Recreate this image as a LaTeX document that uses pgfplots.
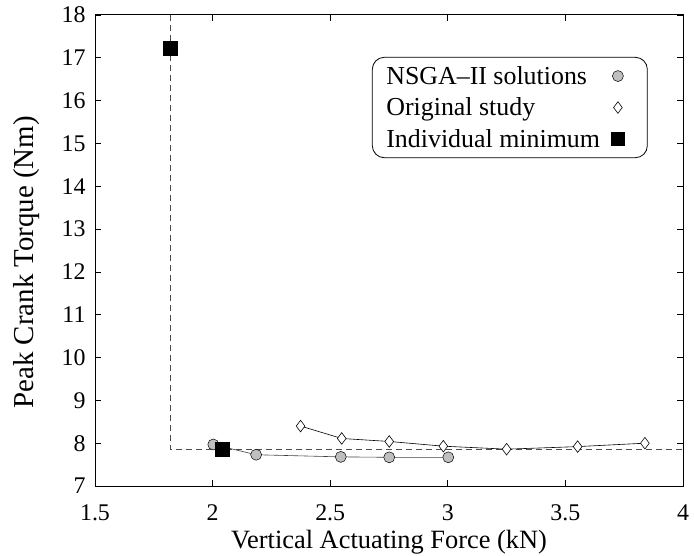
\documentclass[border=0pt]{standalone}
\usepackage{fontspec}
\setmainfont{Liberation Serif}
\usepackage{pgfplots}
\pgfplotsset{compat=1.18}
\begin{document}
\begin{tikzpicture}
\begin{axis}[
 scale only axis, width=588bp, height=471bp,
 xmin=1.5, xmax=4, ymin=7, ymax=18,
 xtick={1.5,2,2.5,3,3.5,4}, ytick={7,8,...,18},
 tick align=inside, major tick length=6bp,
 tick style={line width=0.8pt, black},
 /pgf/number format/assume math mode=true,
 ticklabel style={font=\rmfamily\fontsize{24}{28}\selectfont},
 xticklabel style={yshift=-15bp},
 yticklabel style={xshift=-6bp},
 xlabel={Vertical Actuating Force (kN)},
 ylabel={Peak Crank Torque (Nm)},
 xlabel style={font=\rmfamily\fontsize{26.5}{30}\selectfont, at={(axis description cs:0.5,0)}, anchor=center, yshift=-56bp},
 ylabel style={font=\rmfamily\fontsize{29}{33}\selectfont, at={(axis description cs:0,0.475)}, anchor=center, yshift=68bp},
 axis line style={line width=1pt},
 mylegimg/.style={legend image code/.code={\draw[mark repeat=2,mark phase=2,##1] plot coordinates {(0cm,0cm)(0.3cm,0cm)(0.6cm,0cm)}; \path (0cm,0cm) (0.9cm,0cm);}},
 legend cell align=left,
 legend plot pos=right,
 legend style={at={(0.940,0.911)}, anchor=north east, draw=black, line width=0.8pt,
   rounded corners=12bp, font=\rmfamily\fontsize{26}{30}\selectfont, inner xsep=12bp, inner ysep=7bp,
   row sep=8bp, column sep=7bp, nodes={inner sep=2bp}},
]
% dashed guide lines
\addplot[forget plot, black!70, line width=0.8pt, dash pattern=on 6bp off 4bp]
  coordinates {(1.82,18) (1.82,7.86) (4,7.86)};
% Original study
\addplot[forget plot, black, line width=0.6pt, mark=diamond*, mark size=5.8bp,
  mark options={fill=white, draw=black, line width=0.6pt}]
  coordinates {(2.374,8.40) (2.549,8.11) (2.751,8.04) (2.981,7.93) (3.25,7.86) (3.552,7.92) (3.838,8.00)};
% NSGA-II solutions
\addplot[forget plot, black!75, line width=0.6pt, mark=*, mark size=5.5bp,
  mark options={fill=black!25, draw=black, line width=0.5pt}]
  coordinates {(2.003,7.97) (2.185,7.73) (2.545,7.68) (2.751,7.67) (3.002,7.67)};
% Individual minimum
\addplot[forget plot, only marks, mark=square*, mark size=6.8bp,
  mark options={fill=black, draw=black}]
  coordinates {(1.82,17.23) (2.041,7.86)};
\addlegendimage{only marks, mark=*, mark size=5.5bp, mark options={fill=black!25, draw=black, line width=0.5pt}, mylegimg}
\addlegendentry{NSGA--II solutions}
\addlegendimage{only marks, mark=diamond*, mark size=5.8bp, mark options={fill=white, draw=black, line width=0.6pt}, mylegimg}
\addlegendentry{Original study}
\addlegendimage{only marks, mark=square*, mark size=6.8bp, mark options={fill=black, draw=black}, mylegimg}
\addlegendentry{Individual minimum}
\end{axis}
\pgfresetboundingbox
\path ([shift={(-95bp,-70bp)}]current axis.south west) rectangle ([shift={(11bp,15bp)}]current axis.north east);
\end{tikzpicture}
\end{document}
